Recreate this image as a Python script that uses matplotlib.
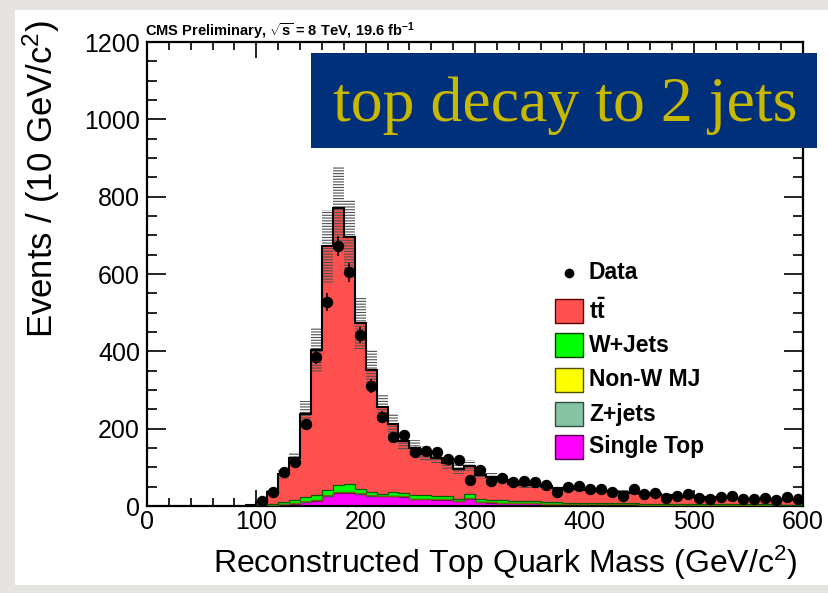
import numpy as np
import matplotlib
matplotlib.use("Agg")
import matplotlib.pyplot as plt
from matplotlib.patches import Rectangle
from matplotlib.lines import Line2D
from matplotlib.ticker import MultipleLocator

plt.rcParams['font.family'] = ['Liberation Sans', 'DejaVu Sans']
plt.rcParams['mathtext.fontset'] = 'custom'
plt.rcParams['mathtext.rm'] = 'Liberation Sans'
plt.rcParams['mathtext.it'] = 'Liberation Sans:italic'
plt.rcParams['mathtext.bf'] = 'Liberation Sans:bold'
plt.rcParams['hatch.linewidth'] = 0.8

# ---- data: 10 GeV bins, lower edges 90 ... 590 GeV ----
bin_low = np.arange(90, 600, 10)

ttbar = [2, 7, 32, 72, 108, 214, 374, 630, 715, 639,
         427, 317, 223, 175, 135, 121, 107, 100, 87, 77,
         73, 62, 60, 51, 43, 42, 42, 42, 36, 35,
         35, 33, 33, 31, 29, 27, 26, 24, 23, 21,
         19, 19, 18, 17, 16, 15, 14, 13, 12, 13, 12]
wjets = [0, 2, 3, 6, 8, 12, 13, 14, 19, 19,
         12, 8, 6, 10, 8, 10, 9, 8, 8, 6,
         10, 7, 6, 6, 5, 5, 5, 4, 4, 4,
         4, 4, 3, 3, 3, 3, 3, 3, 2, 2,
         2, 2, 2, 2, 2, 2, 2, 2, 2, 2, 2]
nonw_mj = [0, 0, 0, 0, 0, 1, 1, 1, 1, 1,
           1, 1, 0, 0, 0, 0, 0, 0, 0, 0,
           0, 0, 0, 0, 0, 0, 0, 0, 0, 0,
           0, 0, 0, 0, 0, 0, 0, 0, 0, 0,
           0, 0, 0, 0, 0, 0, 0, 0, 0, 0, 0]
zjets = [0, 0, 0, 0, 1, 1, 1, 1, 2, 2,
         1, 1, 1, 1, 1, 1, 1, 1, 1, 1,
         3, 1, 1, 1, 0, 0, 0, 0, 0, 0,
         0, 0, 0, 0, 0, 0, 0, 0, 0, 0,
         0, 0, 0, 0, 0, 0, 0, 0, 0, 0, 0]
single_top = [0, 1, 2, 4, 6, 10, 14, 26, 33, 34,
              31, 26, 25, 26, 24, 18, 18, 16, 16, 12,
              18, 10, 9, 8, 8, 7, 7, 6, 6, 5,
              5, 5, 4, 4, 4, 4, 3, 3, 3, 3,
              3, 2, 2, 2, 2, 2, 2, 2, 2, 1, 1]
data = [0, 13, 37, 89, 113, 211, 386, 528, 672, 604,
        442, 310, 231, 179, 183, 140, 141, 139, 122, 118,
        67, 93, 65, 72, 63, 65, 63, 54, 37, 50,
        52, 43, 43, 37, 27, 43, 30, 33, 20, 26,
        30, 20, 17, 22, 26, 17, 17, 20, 16, 22, 17]

syst_frac = 0.14

labels = ['Data', r'$\mathbf{t\bar{t}}$', 'W+Jets', 'Non-W MJ', 'Z+jets', 'Single Top']
colors = {'ttbar': '#ff5050', 'wjets': '#00ff00', 'nonw': '#ffff00',
          'zjets': '#86c3a4', 'stop': '#ff00ff'}

# ---- figure ----
W, H = 829, 593
fig = plt.figure(figsize=(W / 100, H / 100), dpi=100, facecolor='#e6e4e0')


def fx(px):
    return px / W


def fy(py):
    return 1 - py / H


fig.patches.append(Rectangle((fx(15), fy(585)), fx(829) - fx(15), fy(10) - fy(585),
                             transform=fig.transFigure, facecolor='white',
                             edgecolor='none', zorder=-5))

ax = fig.add_axes([fx(147), fy(506), fx(803) - fx(147), fy(42) - fy(506)])
ax.set_facecolor('white')
ax.set_zorder(1)

edges = np.append(bin_low, bin_low[-1] + 10)
centers = bin_low + 5

layers = [(single_top, colors['stop'], '#7a0070'),
          (zjets, colors['zjets'], '#2f5f47'),
          (nonw_mj, colors['nonw'], '#6a6a00'),
          (wjets, colors['wjets'], '#005f00'),
          (ttbar, colors['ttbar'], '#000000')]

base = np.zeros(len(bin_low))
for vals, fc, ec in layers:
    top = base + np.asarray(vals, float)
    ax.stairs(top, edges, baseline=base, fill=True, facecolor=fc, edgecolor='none', zorder=2)
    ax.stairs(top, edges, baseline=None, color=ec, lw=1.3 if ec == '#000000' else 0.9, zorder=3)
    base = top

total = base
ax.stairs(total * (1 + syst_frac), edges, baseline=total * (1 - syst_frac), fill=True,
          facecolor='none', edgecolor='#505050', hatch='------', lw=0, zorder=4)
ax.stairs(total, edges, baseline=None, color='black', lw=1.5, zorder=5)

d = np.asarray(data, float)
mask = d > 0
ax.errorbar(centers[mask], d[mask], yerr=np.sqrt(d[mask]), fmt='o', color='black',
            ms=7.2, elinewidth=1.2, capsize=0, zorder=6)

ax.set_xlim(0, 600)
ax.set_ylim(0, 1200)
ax.xaxis.set_major_locator(MultipleLocator(100))
ax.xaxis.set_minor_locator(MultipleLocator(20))
ax.yaxis.set_major_locator(MultipleLocator(200))
ax.yaxis.set_minor_locator(MultipleLocator(50))
ax.tick_params(axis='both', which='both', direction='in', top=True, right=True,
               labelsize=18, width=1.2)
ax.tick_params(axis='y', which='major', length=13.5, pad=5)
ax.tick_params(axis='y', which='minor', length=7)
ax.tick_params(axis='x', which='major', length=11.5, pad=3)
ax.tick_params(axis='x', which='minor', length=6)
for s in ax.spines.values():
    s.set_linewidth(1.6)

fig.text(fx(505), fy(563), r'Reconstructed Top Quark Mass (GeV/c$^{2}$)',
         ha='center', va='center', fontsize=23)
fig.text(fx(41), fy(20), r'Events / (10 GeV/c$^{2}$)', rotation=90,
         ha='center', va='top', fontsize=25)
fig.text(fx(145), fy(36), r'CMS Preliminary, $\mathbf{\sqrt{s}}$ = 8 TeV, 19.6 fb$^{\mathbf{-1}}$',
         ha='left', va='baseline', fontsize=10.5, fontweight='bold')

# ---- legend ----
rows = [273, 311, 345, 380, 414, 447]
fig.lines.append(Line2D([fx(569)], [fy(rows[0])], marker='o', ms=6, color='black',
                        transform=fig.transFigure, lw=0, zorder=10))
patch_specs = [(colors['ttbar'], '#600000'), (colors['wjets'], '#004000'),
               (colors['nonw'], '#505000'), (colors['zjets'], '#2f4f40'),
               (colors['stop'], '#500050')]
for r, (fc, ec) in zip(rows[1:], patch_specs):
    fig.patches.append(Rectangle((fx(555), fy(r + 12)), fx(583) - fx(555), fy(r - 12) - fy(r + 12),
                                 transform=fig.transFigure, facecolor=fc, edgecolor=ec,
                                 lw=1.0, zorder=10))
for r, lab in zip(rows, labels):
    fig.text(fx(589), fy(r), lab, ha='left', va='center', fontsize=16.5,
             fontweight='bold', zorder=11)

# ---- banner ----
fig.patches.append(Rectangle((fx(311), fy(148)), fx(817) - fx(311), fy(53) - fy(148),
                             transform=fig.transFigure, facecolor='#00307a',
                             edgecolor='none', zorder=12))
fig.text(fx(565), fy(106), 'top decay to 2 jets', ha='center', va='center',
         fontsize=46, family='Liberation Serif', color='#c8b800', zorder=13)

fig.savefig('out.png', dpi=100, facecolor=fig.get_facecolor())
